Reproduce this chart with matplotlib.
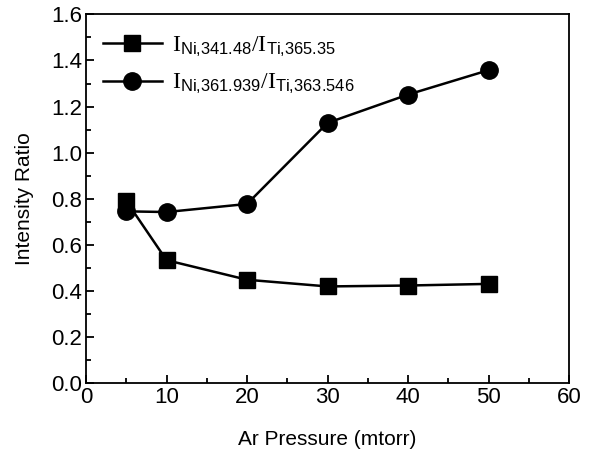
import matplotlib
matplotlib.use("Agg")
import matplotlib.pyplot as plt
from matplotlib.ticker import MultipleLocator

plt.rcParams["font.family"] = ["Liberation Sans", "DejaVu Sans"]
plt.rcParams["mathtext.fontset"] = "custom"
plt.rcParams["mathtext.rm"] = "Liberation Serif"
plt.rcParams["mathtext.sf"] = "Liberation Sans"
plt.rcParams["mathtext.it"] = "Liberation Serif:italic"

# Data
pressure = [5, 10, 20, 30, 40, 50]
ratio_341 = [0.79, 0.533, 0.448, 0.419, 0.423, 0.430]
ratio_361 = [0.745, 0.742, 0.777, 1.129, 1.252, 1.358]

labels = [
    r"$\mathrm{I}_{\mathsf{Ni{,}341.48}}\mathrm{/I}_{\mathsf{Ti{,}365.35}}$",
    r"$\mathrm{I}_{\mathsf{Ni{,}361.939}}\mathrm{/I}_{\mathsf{Ti{,}363.546}}$",
]

fig = plt.figure(figsize=(6.12, 4.5), dpi=100)
ax = fig.add_axes([0.1405, 0.149, 0.7895, 0.819])

ax.plot(pressure, ratio_341, color="black", lw=1.8, marker="s",
        markersize=11, label=labels[0], zorder=3)
ax.plot(pressure, ratio_361, color="black", lw=1.8, marker="o",
        markersize=12.5, label=labels[1], zorder=2)

ax.set_xlim(0, 60)
ax.set_ylim(0, 1.6)
ax.xaxis.set_major_locator(MultipleLocator(10))
ax.xaxis.set_minor_locator(MultipleLocator(5))
ax.yaxis.set_major_locator(MultipleLocator(0.2))
ax.yaxis.set_minor_locator(MultipleLocator(0.1))
ax.yaxis.set_major_formatter(plt.FuncFormatter(lambda v, p: f"{v:.1f}"))

ax.tick_params(which="both", direction="in", top=False, right=False,
               width=1.3, labelsize=16)
ax.tick_params(which="major", length=6, pad=3)
ax.tick_params(which="minor", length=3.5)
for sp in ax.spines.values():
    sp.set_linewidth(1.3)

ax.set_xlabel("Ar Pressure (mtorr)", fontsize=15, labelpad=16)
ax.set_ylabel("Intensity Ratio", fontsize=15, labelpad=12)

ax.legend(loc="upper left", frameon=False, fontsize=17, handlelength=2.5,
          handletextpad=0.45, borderaxespad=0.3, labelspacing=0.55,
          bbox_to_anchor=(0.0, 0.99))

fig.savefig("out.png", dpi=100, facecolor="white")
